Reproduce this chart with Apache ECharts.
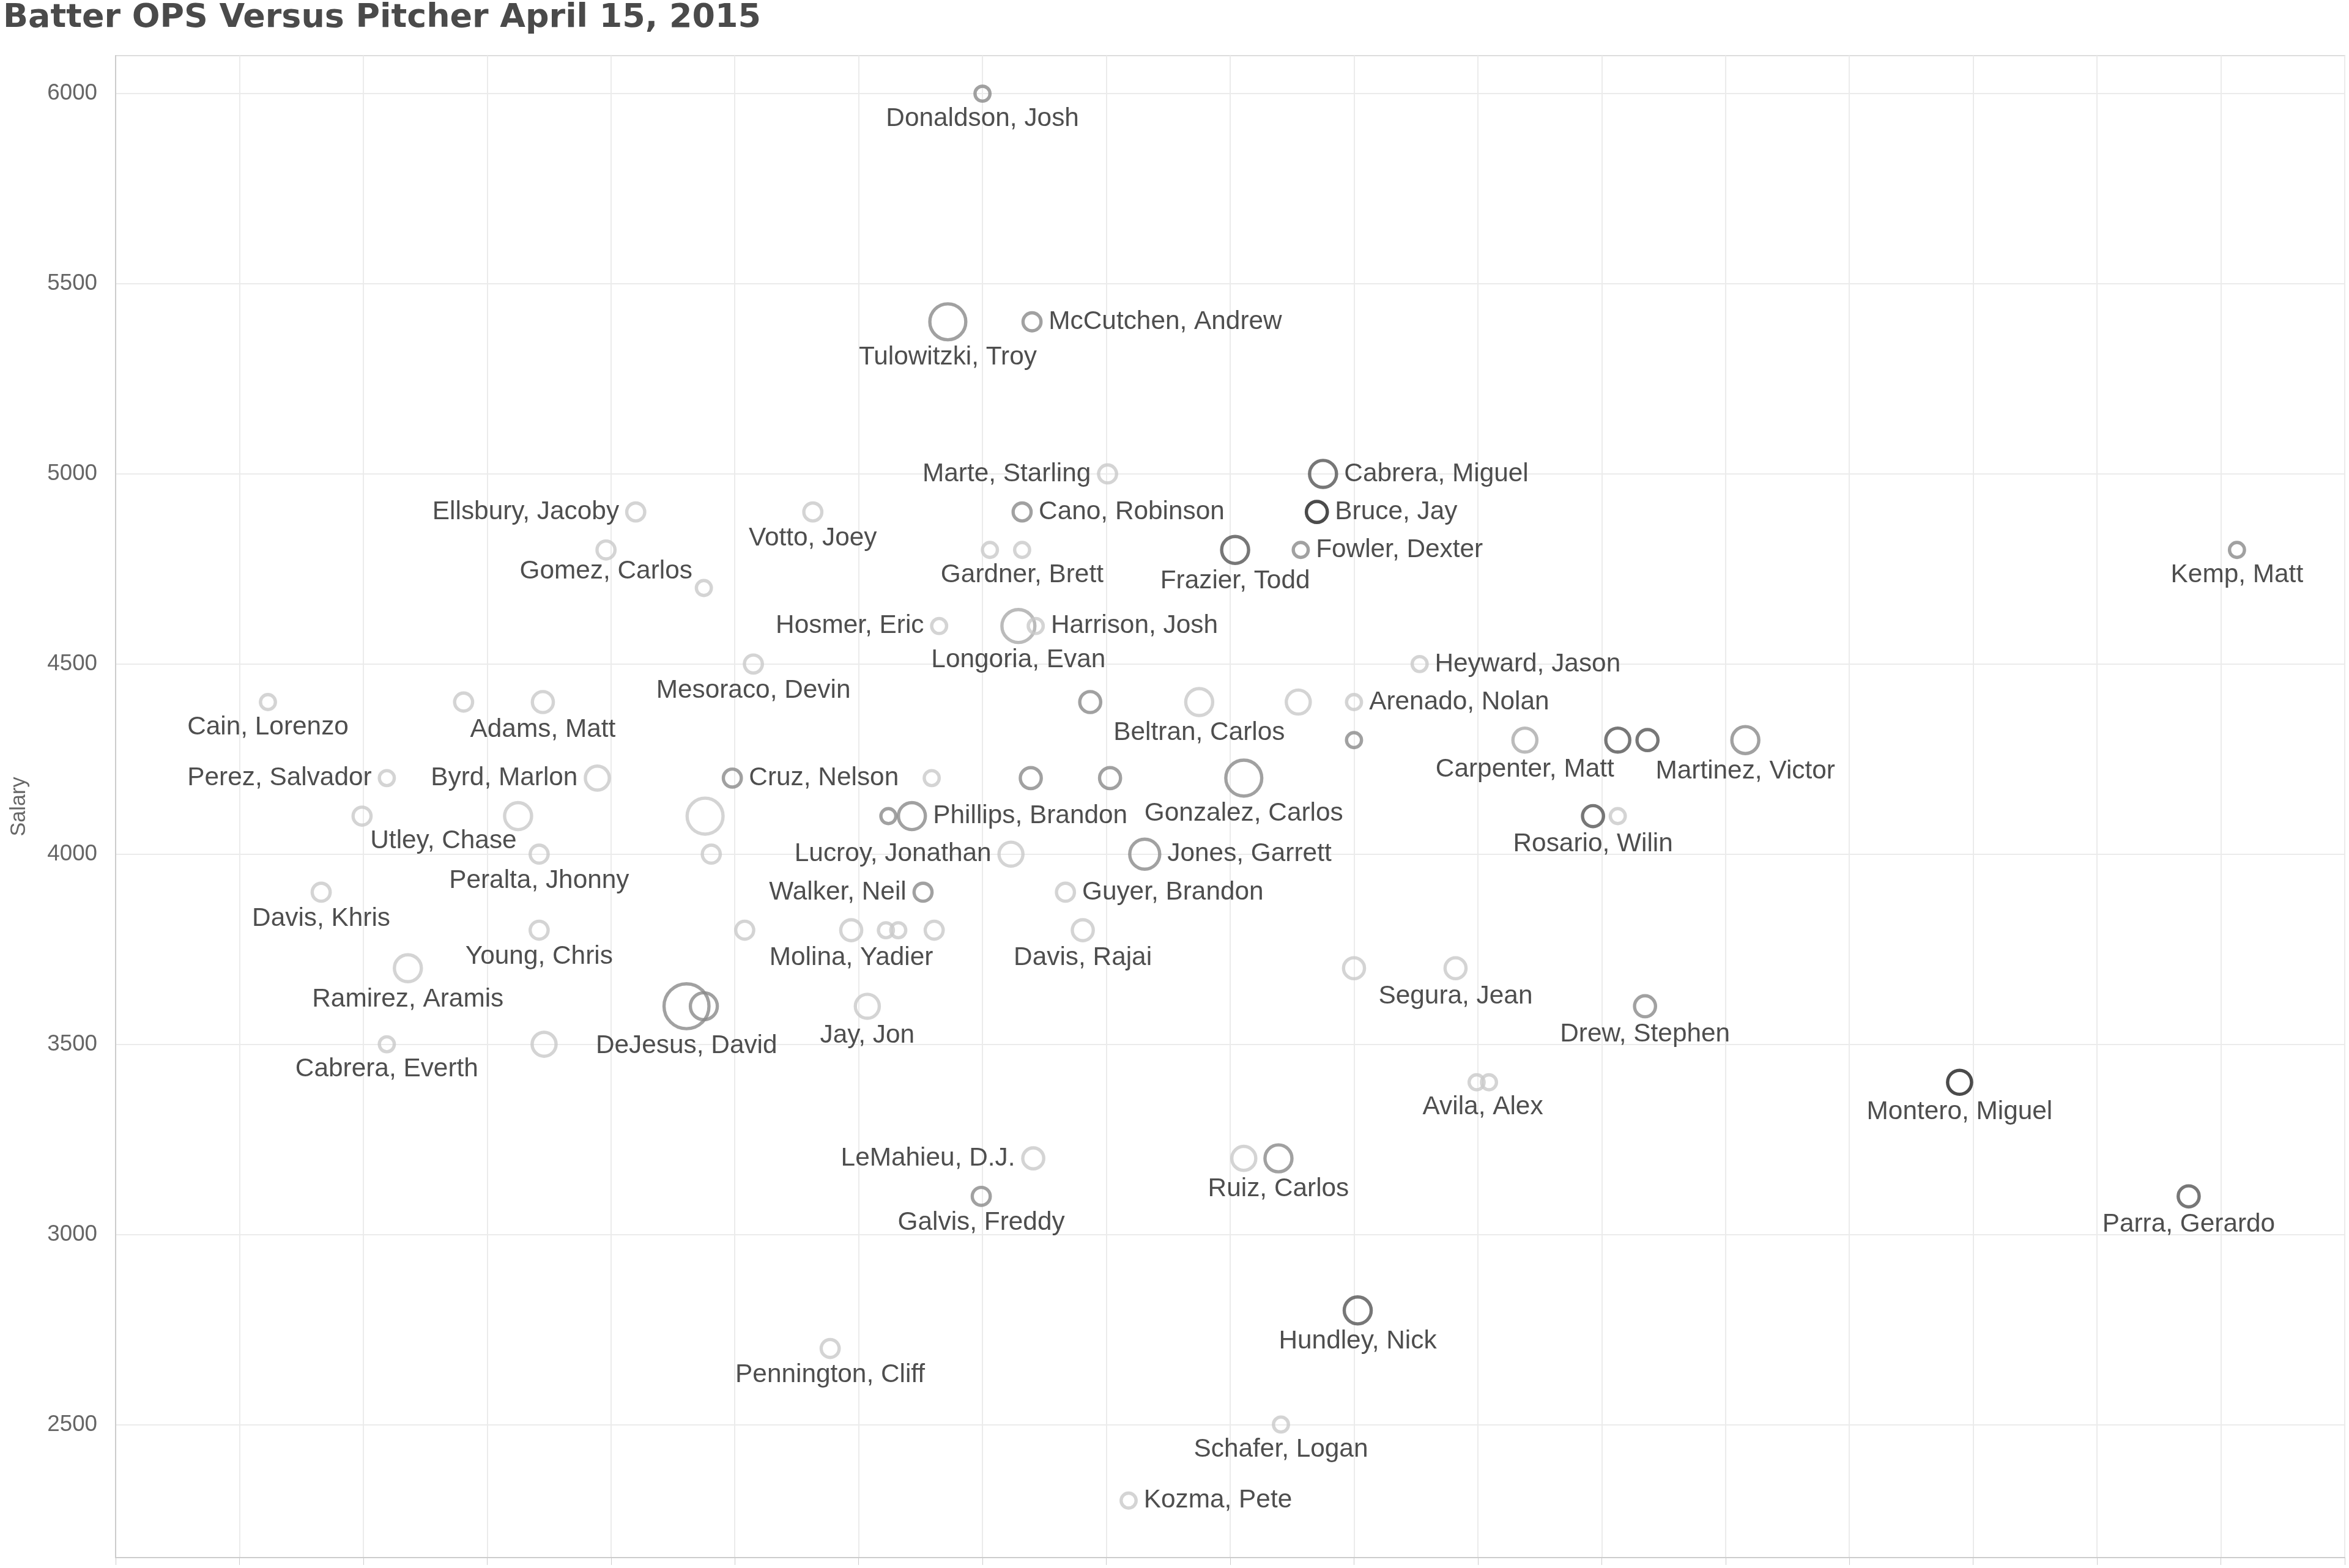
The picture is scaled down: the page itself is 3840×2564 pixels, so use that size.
<!DOCTYPE html>
<html><head><meta charset="utf-8">
<script src="https://cdn.jsdelivr.net/npm/echarts@6/dist/echarts.min.js"></script>
<style>html,body{margin:0;padding:0;background:#fff}#c{width:3840px;height:2564px}</style>
</head><body><div id="c"></div>
<script>
const names = ["Donaldson, Josh","Tulowitzki, Troy","McCutchen, Andrew","Marte, Starling","Cabrera, Miguel","Ellsbury, Jacoby","Votto, Joey","Cano, Robinson","Bruce, Jay","Gomez, Carlos","","","Gardner, Brett","Frazier, Todd","Fowler, Dexter","Kemp, Matt","Hosmer, Eric","Longoria, Evan","Harrison, Josh","Mesoraco, Devin","Heyward, Jason","Cain, Lorenzo","","Adams, Matt","","Beltran, Carlos","","Arenado, Nolan","","Carpenter, Matt","","","Martinez, Victor","Perez, Salvador","Byrd, Marlon","Cruz, Nelson","","","","Gonzalez, Carlos","","Utley, Chase","","","Phillips, Brandon","Rosario, Wilin","","Peralta, Jhonny","","Lucroy, Jonathan","Jones, Garrett","Davis, Khris","Walker, Neil","Guyer, Brandon","Young, Chris","","Molina, Yadier","","","","Davis, Rajai","Ramirez, Aramis","","Segura, Jean","DeJesus, David","","Jay, Jon","Drew, Stephen","Cabrera, Everth","","","Avila, Alex","Montero, Miguel","LeMahieu, D.J.","","Ruiz, Carlos","Galvis, Freddy","Parra, Gerardo","Hundley, Nick","Pennington, Cliff","Schafer, Logan","Kozma, Pete"];
const ops = [0.700,0.672,0.740,0.801,0.975,0.420,0.563,0.732,0.970,0.396,0.475,0.706,0.732,0.904,0.957,1.713,0.665,0.729,0.743,0.515,1.053,0.123,0.281,0.345,0.787,0.875,0.955,1.000,1.000,1.138,1.213,1.237,1.316,0.219,0.389,0.498,0.659,0.739,0.803,0.911,0.199,0.325,0.476,0.624,0.643,1.193,1.213,0.342,0.481,0.723,0.831,0.166,0.652,0.767,0.342,0.508,0.594,0.622,0.632,0.661,0.781,0.236,1.000,1.082,0.461,0.475,0.607,1.235,0.219,0.346,1.099,1.109,1.489,0.741,0.911,0.939,0.699,1.674,1.003,0.577,0.941,0.818];
const salary = [6000,5400,5400,5000,5000,4900,4900,4900,4900,4800,4700,4800,4800,4800,4800,4800,4600,4600,4600,4500,4500,4400,4400,4400,4400,4400,4400,4400,4300,4300,4300,4300,4300,4200,4200,4200,4200,4200,4200,4200,4100,4100,4100,4100,4100,4100,4100,4000,4000,4000,4000,3900,3900,3900,3800,3800,3800,3800,3800,3800,3800,3700,3700,3700,3600,3600,3600,3600,3500,3500,3400,3400,3400,3200,3200,3200,3100,3100,2800,2700,2500,2300];
const bubbleSize = [5,12,6,6,9,6,6,6,7,6,5,5,5,9,5,5,5,11,5,6,5,5,6,7,7,9,8,5,5,8,8,7,9,5,8,6,5,7,7,12,6,9,12,5,9,7,5,6,6,8,10,6,6,6,6,6,7,5,5,6,7,9,7,7,15,9,8,7,5,8,5,5,8,7,8,9,6,7,9,6,5,5];
const shade = [3,3,3,1,4,1,1,3,5,1,1,1,1,4,3,3,1,2,1,1,1,1,1,1,3,1,1,1,3,2,4,4,3,1,1,3,1,3,3,3,1,1,1,3,3,4,1,1,1,1,3,1,3,1,1,1,1,1,1,1,1,1,1,1,3,3,1,3,1,1,1,1,5,1,1,3,3,4,4,1,1,1];
const yTicks = [2500,3000,3500,4000,4500,5000,5500,6000];

const S = 2.449;
const shadeColors = ['#c9c9c9','#aaaaaa','#8a8a8a','#555555','#1e1e1e'];
const labelPlace = {
  "McCutchen, Andrew":"right","Cabrera, Miguel":"right","Cano, Robinson":"right","Bruce, Jay":"right",
  "Fowler, Dexter":"right","Harrison, Josh":"right","Heyward, Jason":"right","Arenado, Nolan":"right",
  "Cruz, Nelson":"right","Phillips, Brandon":"right","Jones, Garrett":"right","Guyer, Brandon":"right","Kozma, Pete":"right",
  "Marte, Starling":"left","Ellsbury, Jacoby":"left","Hosmer, Eric":"left","Perez, Salvador":"left","Byrd, Marlon":"left",
  "Lucroy, Jonathan":"left","Walker, Neil":"left","LeMahieu, D.J.":"left"
};
const labelOffset = {"Utley, Chase":[-122,-10],"Gomez, Carlos":[0,-8],"Avila, Alex":[-10,0]};

const data = names.map((n,i)=>{
  const pos = labelPlace[n] || 'bottom';
  return {
    name:n, value:[ops[i],salary[i]],
    symbolSize: bubbleSize[i]*2*S,
    itemStyle:{color:'rgba(255,255,255,0)',borderColor:shadeColors[shade[i]-1],borderWidth:2.2*S},
    label:{show:n!=='',position:pos,distance:pos==='bottom'?2*S:4*S,offset:labelOffset[n]||[0,0],
      formatter:'{b}',color:'#222',fontSize:17.3*S,fontFamily:'Liberation Sans, Arial, sans-serif'}
  };
});

const chart = echarts.init(document.getElementById('c'));
chart.setOption({
  backgroundColor:'#fff',
  animation:false,
  title:{text:'Batter OPS Versus Pitcher April 15, 2015',left:0,top:-2,
    textStyle:{fontSize:22*S,fontWeight:'bold',color:'#4a4a4a',fontFamily:'DejaVu Sans, sans-serif'}},
  grid:{left:189,right:7,top:91,bottom:17,show:true,borderColor:'#dddddd',borderWidth:2},
  xAxis:{type:'value',min:0,max:1.8,interval:0.1,
    axisLabel:{show:false},axisTick:{show:true,length:12,lineStyle:{color:'#ccc'}},
    axisLine:{show:true,lineStyle:{color:'#cccccc',width:2}},
    splitLine:{show:true,lineStyle:{color:'#ebebeb',width:2}}},
  yAxis:{type:'value',min:2150,max:6100,interval:50,name:'Salary',nameLocation:'middle',nameGap:140,
    nameTextStyle:{fontSize:14*S,color:'#666',fontFamily:'Liberation Sans, Arial, sans-serif'},
    axisLabel:{formatter:v=>v%500===0?String(v):'',fontSize:15*S,color:'#666',margin:30,
      fontFamily:'Liberation Sans, Arial, sans-serif'},
    axisTick:{show:false},axisLine:{show:true,lineStyle:{color:'#cccccc',width:2}},
    splitLine:{show:false}},
  series:[
    {type:'scatter',data:[],z:0,silent:true,
      markLine:{silent:true,symbol:'none',label:{show:false},z:0,
        lineStyle:{color:'#ebebeb',width:2,type:'solid'},
        data:yTicks.map(v=>({yAxis:v}))}},
    {type:'scatter',data:data,z:5}
  ]
});
</script></body></html>
